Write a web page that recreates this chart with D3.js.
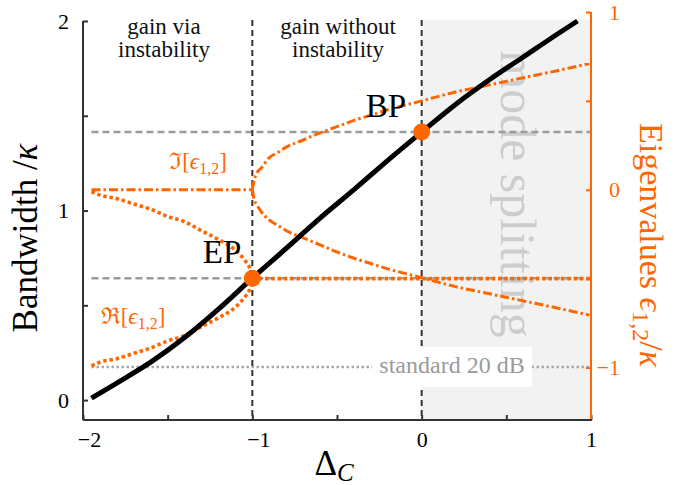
<!DOCTYPE html>
<html>
<head>
<meta charset="utf-8">
<script src="https://cdn.jsdelivr.net/npm/d3@7"></script>
<style>
  html, body { margin: 0; padding: 0; background: #fff; }
  svg { display: block; }
  text { font-family: "Liberation Serif", "DejaVu Serif", serif; }
</style>
</head>
<body>
<svg id="chart" width="696" height="485"></svg>
<script>
// ---------------- data ----------------
// Black curve: bandwidth / kappa versus Delta_C
const deltaBW   = [-1.95, -1.8, -1.6, -1.4, -1.2, -1.0, -0.8, -0.6, -0.4, -0.2, 0, 0.2, 0.4, 0.6, 0.8, 0.92];
const bandwidth = [0.01, 0.09, 0.20, 0.33, 0.48, 0.643, 0.80, 0.96, 1.11, 1.265, 1.414, 1.56, 1.69, 1.81, 1.93, 2.0];

// Imaginary parts of eigenvalues (right axis), below EP: both zero
const deltaImFlat = [-1.95, -1.0];
const imFlat      = [0, 0];
// above EP: two branches
const deltaIm  = [-1.0, -0.99, -0.97, -0.95, -0.9, -0.85, -0.8, -0.7, -0.6, -0.5, -0.4, -0.3, -0.2, -0.1, 0, 0.2, 0.4, 0.6, 0.8, 0.99];
const imUpper  = [0, 0.05, 0.10, 0.12, 0.18, 0.21, 0.24, 0.28, 0.32, 0.355, 0.39, 0.42, 0.45, 0.475, 0.5, 0.55, 0.59, 0.63, 0.67, 0.71];
const imLower  = [0, -0.05, -0.09, -0.12, -0.17, -0.20, -0.23, -0.27, -0.31, -0.35, -0.385, -0.415, -0.445, -0.47, -0.495, -0.545, -0.585, -0.625, -0.665, -0.705];

// Real parts of eigenvalues (right axis), below EP: two branches
const deltaRe  = [-1.95, -1.9, -1.8, -1.7, -1.6, -1.5, -1.4, -1.3, -1.2, -1.1, -1.05, -1.02, -1.01, -1.0];
const reUpper  = [-0.01, -0.03, -0.05, -0.08, -0.11, -0.15, -0.18, -0.23, -0.28, -0.34, -0.39, -0.43, -0.45, -0.5];
const reLower  = [-0.99, -0.97, -0.95, -0.92, -0.89, -0.85, -0.82, -0.77, -0.72, -0.66, -0.61, -0.57, -0.55, -0.5];
// above EP: both at -1/2
const deltaReFlat = [-1.0, 1.0];
const reFlat      = [-0.5, -0.5];

// Reference levels (left axis)
const bwBP = 1.414, bwEP = 0.643, bwStandard = 0.175;
const deltaEP = -1, deltaBP = 0;
const refRange = [-1.95, 1.0];

// Axes ticks
const xTicks = [-2, -1.5, -1, -0.5, 0, 0.5, 1];
const xLabels = [-2, -1, 0, 1];
const yLTicks = [0, 0.5, 1, 1.5, 2];
const yLLabels = [0, 1, 2];
const yRTicks = [-1, -0.5, 0, 0.5, 1];
const yRLabels = [-1, 0, 1];

// ---------------- drawing ----------------
const ORANGE = "#ff6600";
const svg = d3.select("#chart");

const x  = d3.scaleLinear().domain([-2, 1]).range([83, 591]);
const yL = d3.scaleLinear().domain([-0.105, 2]).range([420, 21]);
const yR = d3.scaleLinear().domain([-1.295, 1]).range([420, 12]);

const fmt = v => (v < 0 ? "\u2212" : "") + Math.abs(v);

// mode splitting background
svg.append("rect")
  .attr("x", x(0)).attr("y", yL(2.005))
  .attr("width", x(1) - x(0)).attr("height", yL(-0.105) - yL(2.005))
  .attr("fill", "#f2f2f2");

svg.append("text")
  .attr("transform", `translate(${x(0.47)},${194}) rotate(90)`)
  .attr("text-anchor", "middle")
  .attr("font-size", 50)
  .attr("fill", "#cdcdcd")
  .text("mode splitting");

// horizontal reference lines
[bwBP, bwEP].forEach(b => {
  svg.append("line")
    .attr("x1", x(refRange[0])).attr("x2", x(refRange[1]))
    .attr("y1", yL(b)).attr("y2", yL(b))
    .attr("stroke", "#9c9c9c").attr("stroke-width", 2.5)
    .attr("stroke-dasharray", "7,4");
});
svg.append("line")
  .attr("x1", x(refRange[0])).attr("x2", x(refRange[1]))
  .attr("y1", yL(bwStandard)).attr("y2", yL(bwStandard))
  .attr("stroke", "#a8a8a8").attr("stroke-width", 2.5)
  .attr("stroke-dasharray", "2.5,2.5");

// vertical dashed lines at EP and BP
[deltaEP, deltaBP].forEach(d => {
  svg.append("line")
    .attr("x1", x(d)).attr("x2", x(d))
    .attr("y1", yL(2.005)).attr("y2", yL(-0.105))
    .attr("stroke", "#333").attr("stroke-width", 2)
    .attr("stroke-dasharray", "6,4");
});

// standard 20 dB label with white box
svg.append("rect")
  .attr("x", 372).attr("y", 347).attr("width", 160).attr("height", 40)
  .attr("fill", "#fff");
svg.append("text")
  .attr("x", 452).attr("y", 373)
  .attr("text-anchor", "middle")
  .attr("font-size", 24)
  .attr("fill", "#9a9a9a")
  .text("standard 20 dB");

// orange eigenvalue curves
const lineR = (xs, ys) => d3.line().curve(d3.curveMonotoneX)
  .x((d, i) => x(xs[i])).y((d, i) => yR(ys[i]))(ys);

const dashDot = "9,3,2.5,3";
const dotted = "3.5,2.8";
[[deltaImFlat, imFlat], [deltaIm, imUpper], [deltaIm, imLower]].forEach(([xs, ys]) => {
  svg.append("path").attr("d", lineR(xs, ys))
    .attr("fill", "none").attr("stroke", ORANGE).attr("stroke-width", 3)
    .attr("stroke-dasharray", dashDot);
});
[[deltaRe, reUpper], [deltaRe, reLower], [deltaReFlat, reFlat]].forEach(([xs, ys]) => {
  svg.append("path").attr("d", lineR(xs, ys))
    .attr("fill", "none").attr("stroke", ORANGE).attr("stroke-width", 3.6)
    .attr("stroke-dasharray", dotted);
});

// black bandwidth curve
svg.append("path")
  .attr("d", d3.line().curve(d3.curveMonotoneX)
    .x((d, i) => x(deltaBW[i])).y(d => yL(d))(bandwidth))
  .attr("fill", "none").attr("stroke", "#000").attr("stroke-width", 5);

// EP / BP markers
[[deltaEP, bwEP], [deltaBP, bwBP]].forEach(([d, b]) => {
  svg.append("circle").attr("cx", x(d)).attr("cy", yL(b)).attr("r", 8.5).attr("fill", ORANGE);
});

// axes
const gx = svg.append("g").attr("transform", `translate(0,420)`)
  .call(d3.axisBottom(x).tickValues(xTicks).tickSize(-5).tickPadding(11)
    .tickFormat(v => xLabels.includes(v) ? fmt(v) : ""));
const gl = svg.append("g").attr("transform", `translate(83,0)`)
  .call(d3.axisLeft(yL).tickValues(yLTicks).tickSize(-5).tickPadding(14)
    .tickFormat(v => yLLabels.includes(v) ? fmt(v) : ""));
const gr = svg.append("g").attr("transform", `translate(591,0)`)
  .call(d3.axisRight(yR).tickValues(yRTicks).tickSize(-5).tickPadding(14)
    .tickFormat(v => yRLabels.includes(v) ? fmt(v) : ""));

[gx, gl].forEach(g => {
  g.select(".domain").attr("stroke", "#333").attr("stroke-width", 2);
  g.selectAll(".tick line").attr("stroke", "#333").attr("stroke-width", 2);
  g.selectAll(".tick text").attr("font-size", 22).attr("fill", "#000");
});
gl.select(".domain").attr("d", `M0,${yL(2)}V420`);
gx.select(".domain").attr("d", `M83,0H591`);
gx.selectAll(".tick text").attr("dx", function() {
  return this.textContent.startsWith("\u2212") ? 6 : 0;
});
gr.select(".domain").attr("d", `M0,${yR(1)}V420`).attr("stroke", ORANGE).attr("stroke-width", 2);
gr.selectAll(".tick line").attr("stroke", ORANGE).attr("stroke-width", 2);
gr.selectAll(".tick text").attr("font-size", 22).attr("fill", ORANGE)
  .attr("text-anchor", "end").attr("x", 29);
svg.append("line").attr("x1", 83).attr("x2", 592).attr("y1", 420).attr("y2", 420)
  .attr("stroke", "#333").attr("stroke-width", 2);

// axis titles
svg.append("text")
  .attr("transform", "translate(37,238) rotate(-90)")
  .attr("text-anchor", "middle").attr("font-size", 35).attr("fill", "#000")
  .html('Bandwidth /<tspan font-style="italic">κ</tspan>');

svg.append("text")
  .attr("transform", "translate(640,245) rotate(90)")
  .attr("text-anchor", "middle").attr("font-size", 34).attr("fill", ORANGE)
  .html('Eigenvalues <tspan font-style="italic">ϵ</tspan><tspan font-size="24" dy="7">1,2</tspan><tspan dy="-7">/</tspan><tspan font-style="italic">κ</tspan>');

svg.append("text")
  .attr("x", 334).attr("y", 475)
  .attr("text-anchor", "middle").attr("font-size", 35).attr("fill", "#000")
  .html('Δ<tspan font-style="italic" font-size="25" dy="6">C</tspan>');

// region annotations
const ann = (tx, ty, str, size, color) => svg.append("text")
  .attr("x", tx).attr("y", ty).attr("text-anchor", "middle")
  .attr("font-size", size).attr("fill", color).text(str);
ann(164, 34, "gain via", 23, "#111");
ann(164, 57, "instability", 23, "#111");
ann(338, 34, "gain without", 23, "#111");
ann(338, 57, "instability", 23, "#111");
ann(386, 117, "BP", 33, "#000");
ann(222, 263, "EP", 33, "#000");

svg.append("text").attr("x", 198).attr("y", 169).attr("text-anchor", "middle")
  .attr("font-size", 23).attr("fill", ORANGE)
  .html('ℑ[<tspan font-style="italic">ϵ</tspan><tspan font-size="16" dy="5">1,2</tspan><tspan dy="-5">]</tspan>');
svg.append("text").attr("x", 133).attr("y", 324).attr("text-anchor", "middle")
  .attr("font-size", 23).attr("fill", ORANGE)
  .html('ℜ[<tspan font-style="italic">ϵ</tspan><tspan font-size="16" dy="5">1,2</tspan><tspan dy="-5">]</tspan>');
</script>
</body>
</html>
